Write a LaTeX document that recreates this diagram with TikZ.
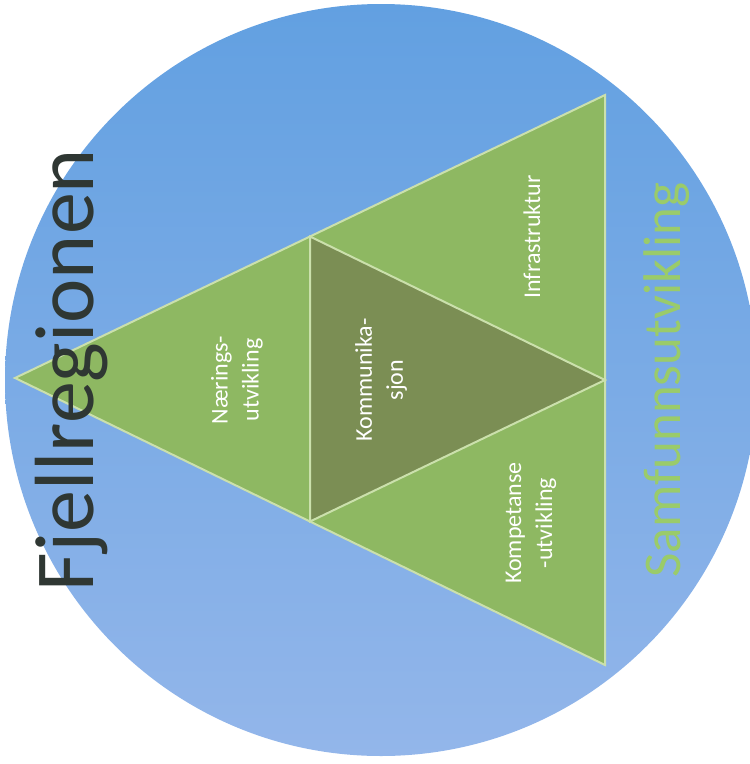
\documentclass[tikz,border=0pt]{standalone}
\usepackage{fontspec}
\setmainfont{Carlito}
\definecolor{blueTop}{HTML}{62A0E1}
\definecolor{blueBot}{HTML}{93B6EA}
\definecolor{greenL}{HTML}{8EB862}
\definecolor{greenD}{HTML}{7B8E54}
\definecolor{edgeC}{HTML}{CBE0AC}
\definecolor{titleC}{HTML}{2F3733}
\definecolor{subC}{HTML}{9ACB6A}
\tikzset{
  lbl/.style={rotate=90, align=center, text=white, inner sep=0pt,
              font=\fontsize{24}{31}\selectfont},
  tri/.style={line width=2pt, draw=edgeC, line join=miter},
}
\begin{document}
\begin{tikzpicture}[x=1pt,y=-1pt]
\useasboundingbox (0,0) rectangle (750,764);
\clip (0,0) rectangle (750,764);
% background disc
\shade[top color=blueTop, bottom color=blueBot] (381,380) circle[radius=376];
% triangle corners and edge midpoints
\coordinate (L) at (15,378);
\coordinate (T) at (605,95);
\coordinate (B) at (605,665);
\coordinate (LT) at (310,236.5);
\coordinate (LB) at (310,521.5);
\coordinate (TB) at (605,380);
\filldraw[tri, fill=greenL] (L) -- (T) -- (B) -- cycle;
\filldraw[tri, fill=greenD] (LT) -- (TB) -- (LB) -- cycle;
% labels
\node[lbl] (naering) at (237,380) {Nærings-\\utvikling};
\node[lbl] (komm) at (381,380) {Kommunika-\\sjon};
\node[lbl] (infra) at (532,237) {Infrastruktur};
\node[lbl] (kompet) at (531,523) {Kompetanse\\-utvikling};
% titles
\node[rotate=90, anchor=base, inner sep=0pt, text=titleC,
      font=\fontsize{84}{100}\selectfont] (fjell) at (93,370) {Fjellregionen};
\node[rotate=90, anchor=base, inner sep=0pt, text=subC,
      font=\fontsize{53}{64}\selectfont] (samf) at (680,380) {Samfunnsutvikling};
\end{tikzpicture}
\end{document}
